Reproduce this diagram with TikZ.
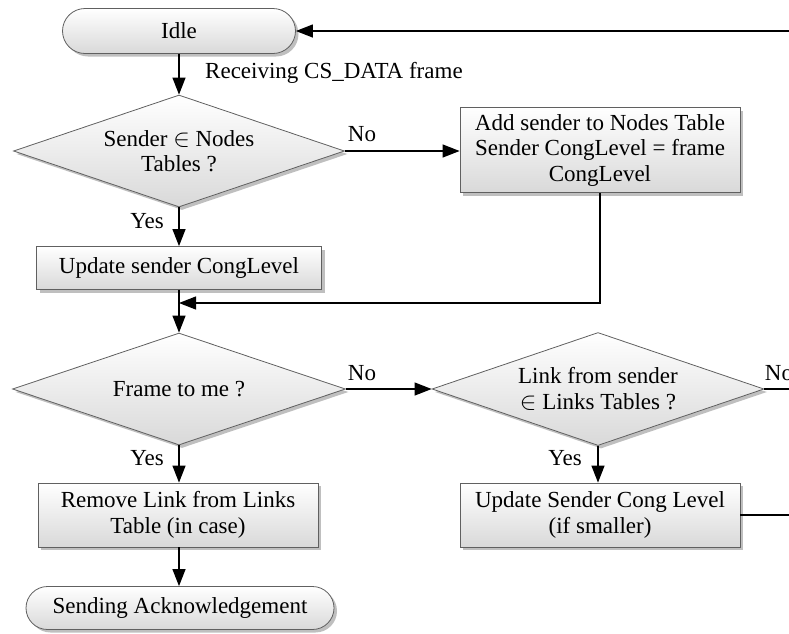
\documentclass[tikz,border=0pt]{standalone}
\usepackage{fontspec}
\setmainfont{Liberation Serif}
\usetikzlibrary{shapes.geometric,shapes.misc,shadows,arrows.meta}
\begin{document}
\begin{tikzpicture}[x=1pt,y=-1pt,
  font=\fontsize{23}{25.5}\selectfont,
  base/.style={draw=gray!75!black, line width=0.8pt, top color=white, bottom color=gray!30,
     drop shadow={shadow xshift=3pt, shadow yshift=-3pt, opacity=0.5, fill=gray}},
  procbox/.style={base, rectangle, align=center, inner sep=0pt},
  termbox/.style={base, rounded rectangle, align=center, inner sep=0pt},
  decbox/.style={base, diamond, align=center, inner sep=0pt, aspect=3},
  conn/.style={line width=1.2pt, -{Triangle[length=17pt,width=13pt]}},
  plain/.style={line width=1.2pt},
  lbl/.style={inner sep=0pt}
]
\useasboundingbox (0,0) rectangle (789,633);
\node[termbox, minimum width=233pt, minimum height=45pt] (idle) at (179,31) {Idle};
\node[decbox, minimum width=331pt, minimum height=112pt] (d1) at (179,151) {Sender $\in$ Nodes\\Tables ?};
\node[procbox, minimum width=280pt, minimum height=85pt] (add) at (600,150) {Add sender to Nodes Table\\Sender CongLevel = frame\\CongLevel};
\node[procbox, minimum width=285pt, minimum height=43pt] (upd) at (179,268) {Update sender CongLevel};
\node[decbox, minimum width=333pt, minimum height=112pt] (d2) at (179,389) {Frame to me ?};
\node[decbox, minimum width=332pt, minimum height=113pt] (d3) at (598,389) {Link from sender\\$\in$ Links Tables ?};
\node[procbox, minimum width=280pt, minimum height=64pt] (rem) at (178,515) {Remove Link from Links\\Table (in case)};
\node[procbox, minimum width=280pt, minimum height=64pt] (ups) at (600,515) {Update Sender Cong Level\\(if smaller)};
\node[termbox, minimum width=308pt, minimum height=43pt] (send) at (180,608) {Sending Acknowledgement};

\coordinate (inR) at (789,31);
\coordinate (outR) at (789,389);
\coordinate (outU) at (789,515);
\coordinate (j) at (179,303);

\draw[conn] (inR) -- (idle.east);
\draw[conn] (idle.south) -- (d1.north);
\node[lbl, anchor=west] (recv) at (205,73) {Receiving CS\_DATA frame};
\draw[conn] (d1.east) -- (add.west |- d1.east);
\node[lbl] (no1) at (362,134) {No};
\draw[conn] (d1.south) -- (upd.north);
\node[lbl] (yes1) at (147,221) {Yes};
\draw[conn] (upd.south) -- (d2.north);
\draw[conn] (add.south) |- (j);
\draw[conn] (d2.east) -- (d3.west);
\node[lbl] (no2) at (362,373) {No};
\draw[plain] (d3.east) -- (outR);
\node[lbl] (no3) at (779,373) {No};
\draw[conn] (d3.south) -- (ups.north -| d3.south);
\node[lbl] (yes3) at (565,458) {Yes};
\draw[plain] (ups.east) -- (outU);
\draw[conn] (d2.south) -- (rem.north -| d2.south);
\node[lbl] (yes2) at (147,458) {Yes};
\draw[conn] (rem.south -| d2.south) -- (send.north -| d2.south);
\end{tikzpicture}
\end{document}
